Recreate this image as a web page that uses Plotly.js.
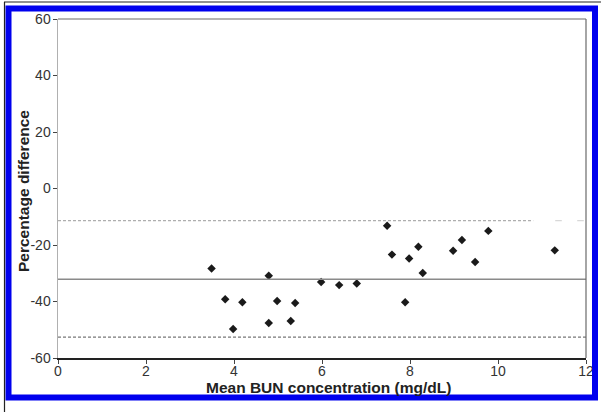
<!DOCTYPE html>
<html>
<head>
<meta charset="utf-8">
<script src="https://cdn.plot.ly/plotly-3.0.1.min.js"></script>
<style>
html,body{margin:0;padding:0;background:#fff;}
#chart{width:602px;height:412px;}
</style>
</head>
<body>
<div id="chart"></div>
<script>
// Data
const meanBUN = [3.49, 3.80, 3.98, 4.19, 4.79, 4.79, 4.98, 5.29, 5.39, 5.98, 6.39, 6.79,
                 7.48, 7.59, 7.89, 7.98, 8.19, 8.29, 8.98, 9.18, 9.48, 9.78, 11.29];
const pctDiff = [-28.3, -39.2, -49.7, -40.3, -30.9, -47.6, -39.8, -46.9, -40.5, -33.1, -34.2, -33.6,
                 -13.2, -23.4, -40.3, -24.8, -20.6, -29.9, -22.0, -18.2, -26.0, -15.0, -21.9];
const meanLine = -32.1;
const upperLimit = -11.4;
const lowerLimit = -52.6;
const xTicks = [0, 2, 4, 6, 8, 10, 12];
const yTicks = [-60, -40, -20, 0, 20, 40, 60];
const xTitle = 'Mean BUN concentration (mg/dL)';
const yTitle = 'Percentage difference';

const W = 602, H = 412;
const M = {l: 58, r: 16, t: 19, b: 54};
const pw = W - M.l - M.r, ph = H - M.t - M.b;
const px = p => (p - M.l) / pw;
const py = p => (H - M.b - p) / ph;

const trace = {
  x: meanBUN, y: pctDiff, type: 'scatter', mode: 'markers',
  marker: {symbol: 'diamond', size: 6.5, color: '#1a1a1a'},
  hoverinfo: 'x+y', showlegend: false
};

const shapes = [
  {type: 'line', xref: 'x', yref: 'y', x0: 0, x1: 12, y0: meanLine, y1: meanLine,
   line: {color: '#8a8a8a', width: 1.5}},
  {type: 'line', xref: 'x', yref: 'y', x0: 0, x1: 10.8, y0: upperLimit, y1: upperLimit,
   line: {color: '#9a9a9a', width: 1, dash: '3px,2px'}},
  {type: 'line', xref: 'x', yref: 'y', x0: 11.3, x1: 11.45, y0: upperLimit, y1: upperLimit,
   line: {color: '#cfcfcf', width: 1}},
  {type: 'line', xref: 'x', yref: 'y', x0: 11.8, x1: 11.95, y0: upperLimit, y1: upperLimit,
   line: {color: '#cfcfcf', width: 1}},
  {type: 'line', xref: 'x', yref: 'y', x0: 0, x1: 12, y0: lowerLimit, y1: lowerLimit,
   line: {color: '#555', width: 1, dash: '3px,2px'}},
  // plot frame top and right
  {type: 'line', xref: 'paper', yref: 'paper', x0: 0, x1: 1, y0: 1, y1: 1,
   line: {color: '#6a6a6a', width: 1.2}},
  {type: 'line', xref: 'paper', yref: 'paper', x0: 1, x1: 1, y0: 0, y1: 1,
   line: {color: '#6a6a6a', width: 1.2}},
  // outer figure frame
  {type: 'rect', xref: 'paper', yref: 'paper', x0: px(8.5), x1: px(595), y0: py(8.5), y1: py(397.5),
   line: {color: '#0000ee', width: 6}, layer: 'above'},
  {type: 'line', xref: 'paper', yref: 'paper', x0: px(4), x1: px(601), y0: py(2), y1: py(2),
   line: {color: '#222', width: 1.2}},
  {type: 'line', xref: 'paper', yref: 'paper', x0: px(4.5), x1: px(4.5), y0: py(2), y1: py(412),
   line: {color: '#222', width: 1.2}}
];

const titleFont = {size: 15.5, color: '#222', family: 'Liberation Sans, Arial, sans-serif', weight: 'bold'};

const annotations = [
  {text: xTitle, xref: 'paper', yref: 'paper', x: px(328), y: py(387.5),
   xanchor: 'center', yanchor: 'middle', showarrow: false, font: titleFont},
  {text: yTitle, xref: 'paper', yref: 'paper', x: px(23), y: py(191), textangle: -90,
   xanchor: 'center', yanchor: 'middle', showarrow: false, font: titleFont}
];

const layout = {
  width: W, height: H,
  margin: M,
  paper_bgcolor: '#fff', plot_bgcolor: '#fff',
  font: {family: 'Liberation Sans, Arial, sans-serif', size: 14, color: '#333'},
  showlegend: false,
  xaxis: {
    range: [0, 12], tickvals: xTicks, ticktext: xTicks.map(String),
    showgrid: false, zeroline: false,
    showline: true, linecolor: '#222', linewidth: 1.5,
    ticks: 'outside', ticklen: 4, tickcolor: '#444', tickwidth: 1,
    ticklabelstandoff: -4,
    tickfont: {size: 14, color: '#333'}
  },
  yaxis: {
    range: [-60, 60], tickvals: yTicks, ticktext: yTicks.map(String),
    showgrid: false, zeroline: false,
    showline: true, linecolor: '#b0b0b0', linewidth: 1.5,
    ticks: 'outside', ticklen: 4, tickcolor: '#444', tickwidth: 1,
    ticklabelstandoff: -1,
    tickfont: {size: 14, color: '#333'}
  },
  shapes: shapes,
  annotations: annotations
};

Plotly.newPlot('chart', [trace], layout, {displayModeBar: false, staticPlot: true});
</script>
</body>
</html>
